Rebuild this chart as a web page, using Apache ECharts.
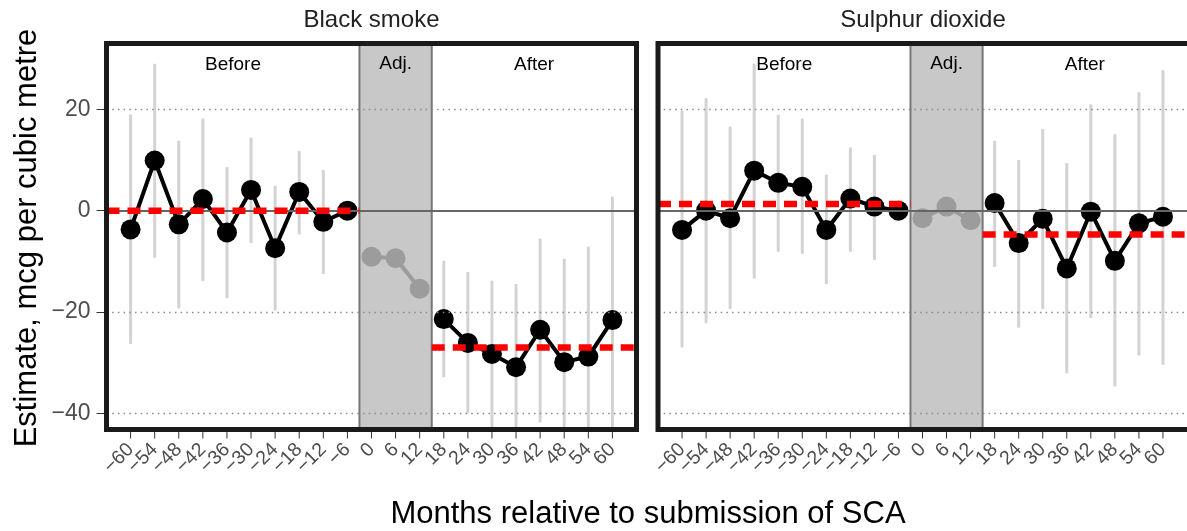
<!DOCTYPE html>
<html>
<head>
<meta charset="utf-8">
<script src="https://cdn.jsdelivr.net/npm/echarts@6/dist/echarts.min.js"></script>
<style>
html,body{margin:0;padding:0;background:#fff;}
#chart{width:1187px;height:531px;}
</style>
</head>
<body>
<div id="chart"></div>
<script>
// ---------- DATA ----------
const panelTitles = ['Black smoke', 'Sulphur dioxide'];
const regionNames = ['Before', 'Adj.', 'After'];
const xTicks = [-60,-54,-48,-42,-36,-30,-24,-18,-12,-6,0,6,12,18,24,30,36,42,48,54,60];
const yTicks = [20, 0, -20, -40];

const beforeMonths = [-60,-54,-48,-42,-36,-30,-24,-18,-12,-6];
const adjMonths = [0,6,12];
const afterMonths = [18,24,30,36,42,48,54,60];

// Black smoke
const bsBeforeEst = [-3.7, 9.9, -2.7, 2.3, -4.3, 4.1, -7.4, 3.7, -2.2, 0];
const bsBeforeLo  = [-26.3, -9.3, -19.3, -13.9, -17.3, -6.4, -19.7, -4.7, -12.5, null];
const bsBeforeHi  = [19.0, 29.0, 13.8, 18.2, 8.6, 14.4, 4.9, 11.8, 8.0, null];
const bsAdjEst    = [-9.1, -9.4, -15.4];
const bsAfterEst  = [-21.4, -26.1, -28.3, -30.9, -23.5, -29.9, -28.8, -21.6];
const bsAfterLo   = [-32.9, -40.0, -43.5, -47.3, -41.8, -50.3, -50.5, -46.0];
const bsAfterHi   = [-9.9, -12.1, -13.8, -14.5, -5.5, -9.5, -7.1, 2.8];
const bsBeforeMean = 0.0;
const bsAfterMean  = -27.0;

// Sulphur dioxide
const so2BeforeEst = [-3.8, 0.0, -1.5, 7.9, 5.5, 4.7, -3.8, 2.4, 0.8, 0];
const so2BeforeLo  = [-27.0, -22.2, -19.4, -13.4, -8.1, -8.5, -14.5, -8.1, -9.7, null];
const so2BeforeHi  = [19.7, 22.2, 16.6, 29.0, 18.9, 18.2, 7.1, 12.5, 11.0, null];
const so2AdjEst    = [-1.5, 0.8, -1.9];
const so2AfterEst  = [1.5, -6.4, -1.6, -11.4, -0.2, -9.9, -2.5, -1.2];
const so2AfterLo   = [-11.1, -23.1, -19.4, -32.1, -21.2, -34.7, -28.6, -30.4];
const so2AfterHi   = [13.8, 10.0, 16.1, 9.4, 21.0, 15.1, 23.4, 27.7];
const so2BeforeMean = 1.3;
const so2AfterMean  = -4.7;

// ---------- LAYOUT / STYLE ----------
const FONT = 'Liberation Sans, Arial, sans-serif';
const X_MIN = -66, X_MAX = 66, Y_MIN = -43.2, Y_MAX = 33.0;
const ADJ_START = -3, ADJ_END = 15;
const grids = [
  {left: 106.5, top: 43.5, width: 530, height: 386},
  {left: 658, top: 43.5, width: 530, height: 386}
];
const minus = v => String(v).replace('-', '\u2212');

const panels = [
  {beforeEst: bsBeforeEst, beforeLo: bsBeforeLo, beforeHi: bsBeforeHi, adjEst: bsAdjEst,
   afterEst: bsAfterEst, afterLo: bsAfterLo, afterHi: bsAfterHi, bMean: bsBeforeMean, aMean: bsAfterMean},
  {beforeEst: so2BeforeEst, beforeLo: so2BeforeLo, beforeHi: so2BeforeHi, adjEst: so2AdjEst,
   afterEst: so2AfterEst, afterLo: so2AfterLo, afterHi: so2AfterHi, bMean: so2BeforeMean, aMean: so2AfterMean}
];

const xAxes = [], yAxes = [], series = [];
panels.forEach((p, gi) => {
  xAxes.push({
    type: 'value', gridIndex: gi, min: X_MIN, max: X_MAX, position: 'bottom',
    axisLine: {show: false, onZero: false}, splitLine: {show: false},
    axisTick: {show: false}, axisLabel: {show: false}
  });
  yAxes.push({
    type: 'value', gridIndex: gi, min: Y_MIN, max: Y_MAX, position: 'left', z: 10,
    axisLine: {show: false, onZero: false}, splitLine: {show: false},
    axisTick: {show: gi === 0, customValues: yTicks, length: 10, lineStyle: {color: '#333', width: 1}},
    axisLabel: {show: gi === 0, customValues: yTicks, margin: 16, fontSize: 23,
      color: '#4d4d4d', fontFamily: FONT, formatter: minus}
  });

  // Background regions
  series.push({
    type: 'line', xAxisIndex: gi, yAxisIndex: gi, data: [], z: 1, silent: true,
    markArea: {
      silent: true,
      label: {show: true, position: 'insideTop', distance: 12, fontSize: 19, color: '#000', fontFamily: FONT},
      data: [
        [{xAxis: X_MIN, name: regionNames[0], itemStyle: {color: 'rgba(0,0,0,0)', borderWidth: 0}}, {xAxis: ADJ_START}],
        [{xAxis: ADJ_START, name: regionNames[1], itemStyle: {color: '#c8c8c8', borderColor: '#777', borderWidth: 2}}, {xAxis: ADJ_END}],
        [{xAxis: ADJ_END, name: regionNames[2], itemStyle: {color: 'rgba(0,0,0,0)', borderWidth: 0}}, {xAxis: X_MAX}]
      ]
    }
  });
  // gridlines + zero line
  series.push({
    type: 'line', xAxisIndex: gi, yAxisIndex: gi, data: [], z: 2, silent: true,
    markLine: {
      silent: true, symbol: 'none', label: {show: false},
      data: yTicks.filter(v => v !== 0).map(v => ({yAxis: v, lineStyle: {type: [1.5, 4.2], color: '#8a8a8a', width: 1.3}}))
        .concat([{yAxis: 0, lineStyle: {type: 'solid', color: '#666', width: 2}}])
    }
  });
  // x-axis ticks and rotated labels (placed through the axis scale)
  series.push({
    type: 'custom', xAxisIndex: gi, yAxisIndex: gi, z: 2, silent: true, clip: false,
    data: xTicks.map(t => [t]),
    encode: {x: 0},
    renderItem: (params, api) => {
      const v = api.value(0);
      const pt = api.coord([v, Y_MIN]);
      return {type: 'group', children: [
        {type: 'line', shape: {x1: pt[0], y1: pt[1], x2: pt[0], y2: pt[1] + 9},
         style: {stroke: '#333', lineWidth: 1}},
        {type: 'text', x: pt[0], y: pt[1] + 17, rotation: Math.PI / 4,
         style: {text: minus(v), textAlign: 'right', textVerticalAlign: 'middle',
           fontSize: 19.5, fill: '#4d4d4d', fontFamily: FONT}}
      ]};
    }
  });
  // error bars
  const bars = [];
  beforeMonths.forEach((m, i) => { if (p.beforeLo[i] != null) bars.push([m, p.beforeLo[i], p.beforeHi[i]]); });
  afterMonths.forEach((m, i) => { if (p.afterLo[i] != null) bars.push([m, p.afterLo[i], p.afterHi[i]]); });
  series.push({
    type: 'custom', xAxisIndex: gi, yAxisIndex: gi, z: 3, silent: true, data: bars,
    encode: {x: 0, y: [1, 2]},
    renderItem: (params, api) => {
      const cs = params.coordSys;
      const a = api.coord([api.value(0), api.value(1)]);
      const b = api.coord([api.value(0), api.value(2)]);
      const yBot = Math.min(a[1], cs.y + cs.height);
      const yTop = Math.max(b[1], cs.y);
      return {type: 'line', shape: {x1: a[0], y1: yBot, x2: b[0], y2: yTop},
        style: {stroke: '#d3d3d3', lineWidth: 3}};
    }
  });
  const ptStyle = (col) => ({
    type: 'line', xAxisIndex: gi, yAxisIndex: gi, z: 4, silent: true,
    symbol: 'circle', symbolSize: 20, showSymbol: true, showAllSymbol: true,
    itemStyle: {color: col}, lineStyle: {color: col, width: 4}
  });
  series.push(Object.assign(ptStyle('#000'), {data: beforeMonths.map((m, i) => [m, p.beforeEst[i]])}));
  series.push(Object.assign(ptStyle('#9c9c9c'), {data: adjMonths.map((m, i) => [m, p.adjEst[i]])}));
  series.push(Object.assign(ptStyle('#000'), {data: afterMonths.map((m, i) => [m, p.afterEst[i]])}));
  // mean dashed lines
  const dash = {type: 'line', xAxisIndex: gi, yAxisIndex: gi, z: 5, silent: true, symbol: 'none',
    lineStyle: {color: '#ff0000', width: 6.5, type: [13, 8], cap: 'butt'}};
  series.push(Object.assign({}, dash, {data: [[X_MIN, p.bMean], [ADJ_START, p.bMean]]}));
  series.push(Object.assign({}, dash, {data: [[ADJ_END, p.aMean], [X_MAX, p.aMean]]}));
});

const graphic = [];
grids.forEach((g, gi) => {
  graphic.push({type: 'rect', z: 100, silent: true,
    shape: {x: g.left, y: g.top, width: g.width + (gi === 1 ? 6 : 0), height: g.height},
    style: {fill: 'none', stroke: '#1a1a1a', lineWidth: 5}});
  graphic.push({type: 'text', z: 100, silent: true,
    style: {text: panelTitles[gi], x: g.left + g.width / 2, y: 20, textAlign: 'center', textVerticalAlign: 'middle',
      fontSize: 24, fill: '#222', fontFamily: FONT}});
});
graphic.push({type: 'text', z: 100, silent: true, rotation: Math.PI / 2, x: 27, y: 238,
  style: {text: 'Estimate, mcg per cubic metre', x: 0, y: 0, textAlign: 'center', textVerticalAlign: 'middle',
    fontSize: 31, fill: '#000', fontFamily: FONT}});
graphic.push({type: 'text', z: 100, silent: true,
  style: {text: 'Months relative to submission of SCA', x: 648, y: 514, textAlign: 'center', textVerticalAlign: 'middle',
    fontSize: 31, fill: '#000', fontFamily: FONT}});

const chart = echarts.init(document.getElementById('chart'), null, {renderer: 'canvas'});
chart.setOption({
  animation: false,
  backgroundColor: '#fff',
  grid: grids,
  xAxis: xAxes,
  yAxis: yAxes,
  series: series,
  graphic: graphic
});
</script>
</body>
</html>
